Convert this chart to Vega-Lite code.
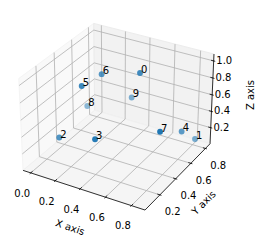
{
  "$schema": "https://vega.github.io/schema/vega-lite/v6.json",
  "width": 265,
  "height": 242,
  "autosize": {"type": "none"},
  "padding": 0,
  "background": "white",
  "config": {"view": {"stroke": null}, "text": {"font": "DejaVu Sans", "fontSize": 10, "color": "#000000"}},
  "data": {"values": [
    {"k": "pane", "p": "xp", "i": 0, "x": -0.064, "y": 0.019, "z": 0},
    {"k": "pane", "p": "xp", "i": 1, "x": -0.064, "y": 0.865, "z": 0},
    {"k": "pane", "p": "xp", "i": 2, "x": -0.064, "y": 0.865, "z": 1.08},
    {"k": "pane", "p": "xp", "i": 3, "x": -0.064, "y": 0.019, "z": 1.08},
    {"k": "pane", "p": "xp", "i": 4, "x": -0.064, "y": 0.019, "z": 0},
    {"k": "pane", "p": "yp", "i": 0, "x": -0.064, "y": 0.865, "z": 0},
    {"k": "pane", "p": "yp", "i": 1, "x": 0.903, "y": 0.865, "z": 0},
    {"k": "pane", "p": "yp", "i": 2, "x": 0.903, "y": 0.865, "z": 1.08},
    {"k": "pane", "p": "yp", "i": 3, "x": -0.064, "y": 0.865, "z": 1.08},
    {"k": "pane", "p": "yp", "i": 4, "x": -0.064, "y": 0.865, "z": 0},
    {"k": "pane", "p": "floor", "i": 0, "x": -0.064, "y": 0.019, "z": 0},
    {"k": "pane", "p": "floor", "i": 1, "x": 0.903, "y": 0.019, "z": 0},
    {"k": "pane", "p": "floor", "i": 2, "x": 0.903, "y": 0.865, "z": 0},
    {"k": "pane", "p": "floor", "i": 3, "x": -0.064, "y": 0.865, "z": 0},
    {"k": "pane", "p": "floor", "i": 4, "x": -0.064, "y": 0.019, "z": 0},

    {"k": "seg", "p": "floor", "a": "x", "v": 0.0},
    {"k": "seg", "p": "floor", "a": "x", "v": 0.2},
    {"k": "seg", "p": "floor", "a": "x", "v": 0.4},
    {"k": "seg", "p": "floor", "a": "x", "v": 0.6},
    {"k": "seg", "p": "floor", "a": "x", "v": 0.8},
    {"k": "seg", "p": "floor", "a": "y", "v": 0.2},
    {"k": "seg", "p": "floor", "a": "y", "v": 0.4},
    {"k": "seg", "p": "floor", "a": "y", "v": 0.6},
    {"k": "seg", "p": "floor", "a": "y", "v": 0.8},
    {"k": "seg", "p": "xp", "a": "y", "v": 0.2},
    {"k": "seg", "p": "xp", "a": "y", "v": 0.4},
    {"k": "seg", "p": "xp", "a": "y", "v": 0.6},
    {"k": "seg", "p": "xp", "a": "y", "v": 0.8},
    {"k": "seg", "p": "xp", "a": "z", "v": 0.2},
    {"k": "seg", "p": "xp", "a": "z", "v": 0.4},
    {"k": "seg", "p": "xp", "a": "z", "v": 0.6},
    {"k": "seg", "p": "xp", "a": "z", "v": 0.8},
    {"k": "seg", "p": "xp", "a": "z", "v": 1.0},
    {"k": "seg", "p": "yp", "a": "x", "v": 0.0},
    {"k": "seg", "p": "yp", "a": "x", "v": 0.2},
    {"k": "seg", "p": "yp", "a": "x", "v": 0.4},
    {"k": "seg", "p": "yp", "a": "x", "v": 0.6},
    {"k": "seg", "p": "yp", "a": "x", "v": 0.8},
    {"k": "seg", "p": "yp", "a": "z", "v": 0.2},
    {"k": "seg", "p": "yp", "a": "z", "v": 0.4},
    {"k": "seg", "p": "yp", "a": "z", "v": 0.6},
    {"k": "seg", "p": "yp", "a": "z", "v": 0.8},
    {"k": "seg", "p": "yp", "a": "z", "v": 1.0},

    {"k": "ln", "x": -0.064, "y": 0.019, "z": 0, "x2": 0.903, "y2": 0.019, "z2": 0},
    {"k": "ln", "x": 0.903, "y": 0.019, "z": 0, "x2": 0.903, "y2": 0.865, "z2": 0},
    {"k": "ln", "x": 0.903, "y": 0.865, "z": 0, "x2": 0.903, "y2": 0.865, "z2": 1.08},

    {"k": "tk", "a": "x", "v": 0.0}, {"k": "tk", "a": "x", "v": 0.2}, {"k": "tk", "a": "x", "v": 0.4},
    {"k": "tk", "a": "x", "v": 0.6}, {"k": "tk", "a": "x", "v": 0.8},
    {"k": "tk", "a": "y", "v": 0.2}, {"k": "tk", "a": "y", "v": 0.4}, {"k": "tk", "a": "y", "v": 0.6},
    {"k": "tk", "a": "y", "v": 0.8},
    {"k": "tk", "a": "z", "v": 0.2}, {"k": "tk", "a": "z", "v": 0.4}, {"k": "tk", "a": "z", "v": 0.6},
    {"k": "tk", "a": "z", "v": 0.8}, {"k": "tk", "a": "z", "v": 1.0},

    {"k": "tl", "a": "x", "v": 0.0}, {"k": "tl", "a": "x", "v": 0.2}, {"k": "tl", "a": "x", "v": 0.4},
    {"k": "tl", "a": "x", "v": 0.6}, {"k": "tl", "a": "x", "v": 0.8},
    {"k": "tl", "a": "y", "v": 0.2}, {"k": "tl", "a": "y", "v": 0.4}, {"k": "tl", "a": "y", "v": 0.6},
    {"k": "tl", "a": "y", "v": 0.8},
    {"k": "tl", "a": "z", "v": 0.2}, {"k": "tl", "a": "z", "v": 0.4}, {"k": "tl", "a": "z", "v": 0.6},
    {"k": "tl", "a": "z", "v": 0.8}, {"k": "tl", "a": "z", "v": 1.0},

    {"k": "ti", "t": "X axis", "x": 0.42, "y": 0.019, "z": 0},
    {"k": "ti", "t": "Y axis", "x": 0.903, "y": 0.442, "z": 0},
    {"k": "ti", "t": "Z axis", "x": 0.903, "y": 0.865, "z": 0.54},

    {"k": "pt", "label": "0", "x": 0.518, "y": 0.554, "z": 0.951},
    {"k": "pt", "label": "1", "x": 0.831, "y": 0.776, "z": 0.107},
    {"k": "pt", "label": "2", "x": 0.110, "y": 0.198, "z": 0.316},
    {"k": "pt", "label": "3", "x": 0.440, "y": 0.139, "z": 0.497},
    {"k": "pt", "label": "4", "x": 0.800, "y": 0.641, "z": 0.305},
    {"k": "pt", "label": "5", "x": 0.214, "y": 0.318, "z": 0.867},
    {"k": "pt", "label": "6", "x": 0.235, "y": 0.520, "z": 0.851},
    {"k": "pt", "label": "7", "x": 0.822, "y": 0.321, "z": 0.594},
    {"k": "pt", "label": "8", "x": 0.049, "y": 0.612, "z": 0.316},
    {"k": "pt", "label": "9", "x": 0.348, "y": 0.719, "z": 0.457}
  ]},
  "transform": [
    {"calculate": "datum.k=='seg' ? (datum.a=='x' ? datum.v : -0.064) : datum.k=='tl' ? (datum.a=='x' ? datum.v : 0.903) : datum.k=='tk' ? (datum.a=='x' ? datum.v : 0.883) : datum.x", "as": "ax3"},
    {"calculate": "datum.k=='seg' ? (datum.a=='y' ? datum.v : (datum.p=='yp' ? 0.865 : 0.019)) : datum.k=='tl' ? (datum.a=='y' ? datum.v : datum.a=='x' ? 0.019 : 0.865) : datum.k=='tk' ? (datum.a=='y' ? datum.v : datum.a=='x' ? 0.039 : 0.865) : datum.y", "as": "ay3"},
    {"calculate": "(datum.k=='seg' || datum.k=='tl' || datum.k=='tk') ? (datum.a=='z' ? datum.v : 0) : datum.z", "as": "az3"},
    {"calculate": "datum.k=='seg' ? (datum.a=='x' ? datum.v : (datum.p=='xp' ? -0.064 : 0.903)) : datum.k=='tk' ? (datum.a=='x' ? datum.v : 0.915) : datum.k=='ln' ? datum.x2 : datum.ax3", "as": "bx3"},
    {"calculate": "datum.k=='seg' ? (datum.a=='y' ? datum.v : 0.865) : datum.k=='tk' ? (datum.a=='y' ? datum.v : datum.a=='x' ? 0.007 : 0.865) : datum.k=='ln' ? datum.y2 : datum.ay3", "as": "by3"},
    {"calculate": "datum.k=='seg' ? (datum.a=='z' ? datum.v : (datum.p=='floor' ? 0 : 1.08)) : datum.k=='ln' ? datum.z2 : datum.az3", "as": "bz3"},
    {"calculate": "(datum.ax3 + 0.064) * 1.181859 - 0.571429", "as": "qxa"},
    {"calculate": "(datum.ay3 - 0.019) * 1.350895 - 0.571429", "as": "qya"},
    {"calculate": "datum.az3 * 0.793651 - 0.428571", "as": "qza"},
    {"calculate": "0.433013*datum.qxa - 0.75*datum.qya + 0.5*datum.qza", "as": "Wa"},
    {"calculate": "(0.866025*datum.qxa + 0.5*datum.qya) / (10 - datum.Wa)", "as": "sxa"},
    {"calculate": "(-0.25*datum.qxa + 0.433013*datum.qya + 0.866025*datum.qza) / (10 - datum.Wa)", "as": "sya"},
    {"calculate": "(datum.bx3 + 0.064) * 1.181859 - 0.571429", "as": "qxb"},
    {"calculate": "(datum.by3 - 0.019) * 1.350895 - 0.571429", "as": "qyb"},
    {"calculate": "datum.bz3 * 0.793651 - 0.428571", "as": "qzb"},
    {"calculate": "0.433013*datum.qxb - 0.75*datum.qyb + 0.5*datum.qzb", "as": "Wb"},
    {"calculate": "(0.866025*datum.qxb + 0.5*datum.qyb) / (10 - datum.Wb)", "as": "sxb"},
    {"calculate": "(-0.25*datum.qxb + 0.433013*datum.qyb + 0.866025*datum.qzb) / (10 - datum.Wb)", "as": "syb"}
  ],
  "encoding": {
    "x": {"field": "sxa", "type": "quantitative", "scale": {"domain": [-0.096648, 0.120033], "nice": false, "zero": false}, "axis": null},
    "y": {"field": "sya", "type": "quantitative", "scale": {"domain": [-0.105969, 0.091905], "nice": false, "zero": false}, "axis": null}
  },
  "layer": [
    {
      "transform": [{"filter": "datum.k=='pane'"}],
      "mark": {"type": "line", "strokeWidth": 1, "clip": false},
      "encoding": {
        "detail": {"field": "p"},
        "order": {"field": "i", "type": "quantitative"},
        "fill": {"field": "p", "type": "nominal", "scale": {"domain": ["xp", "yp", "floor"], "range": ["#f9f9f9", "#f2f2f2", "#f5f5f5"]}, "legend": null},
        "stroke": {"field": "p", "type": "nominal", "scale": {"domain": ["xp", "yp", "floor"], "range": ["#f4f4f4", "#ececec", "#f0f0f0"]}, "legend": null}
      }
    },
    {
      "transform": [{"filter": "datum.k=='seg'"}],
      "mark": {"type": "rule", "color": "#b0b0b0", "strokeWidth": 0.8},
      "encoding": {"x2": {"field": "sxb"}, "y2": {"field": "syb"}}
    },
    {
      "transform": [{"filter": "datum.k=='ln' || datum.k=='tk'"}],
      "mark": {"type": "rule", "color": "#000000", "strokeWidth": 0.8},
      "encoding": {"x2": {"field": "sxb"}, "y2": {"field": "syb"}}
    },
    {
      "transform": [{"filter": "datum.k=='tl' && datum.a=='x'"}],
      "mark": {"type": "text", "align": "center", "baseline": "middle", "dx": -8.5, "dy": 20.7},
      "encoding": {"text": {"field": "v", "type": "quantitative", "format": ".1f"}}
    },
    {
      "transform": [{"filter": "datum.k=='tl' && datum.a=='y'"}],
      "mark": {"type": "text", "align": "center", "baseline": "middle", "dx": 12.8, "dy": 17.3},
      "encoding": {"text": {"field": "v", "type": "quantitative", "format": ".1f"}}
    },
    {
      "transform": [{"filter": "datum.k=='tl' && datum.a=='z'"}],
      "mark": {"type": "text", "align": "center", "baseline": "middle", "dx": 10.6, "dy": 0},
      "encoding": {"text": {"field": "v", "type": "quantitative", "format": ".1f"}}
    },
    {
      "transform": [{"filter": "datum.k=='ti' && datum.t=='X axis'"}],
      "mark": {"type": "text", "align": "center", "baseline": "middle", "angle": 19, "dx": 0.5, "dy": 40},
      "encoding": {"text": {"field": "t"}}
    },
    {
      "transform": [{"filter": "datum.k=='ti' && datum.t=='Y axis'"}],
      "mark": {"type": "text", "align": "center", "baseline": "middle", "angle": 315, "dx": -1.8, "dy": 37.1},
      "encoding": {"text": {"field": "t"}}
    },
    {
      "transform": [{"filter": "datum.k=='ti' && datum.t=='Z axis'"}],
      "mark": {"type": "text", "align": "center", "baseline": "middle", "angle": 270, "dx": 4.8, "dy": 39.5},
      "encoding": {"text": {"field": "t"}}
    },
    {
      "transform": [{"filter": "datum.k=='pt'"}],
      "mark": {"type": "circle", "size": 34, "color": "#1f77b4", "strokeWidth": 0},
      "encoding": {
        "opacity": {"field": "Wa", "type": "quantitative", "scale": {"range": [0.5, 1], "zero": false, "nice": false}, "legend": null}
      }
    },
    {
      "transform": [{"filter": "datum.k=='pt'"}],
      "mark": {"type": "text", "align": "left", "baseline": "alphabetic", "dx": 1, "fontSize": 10},
      "encoding": {"text": {"field": "label"}}
    }
  ]
}
